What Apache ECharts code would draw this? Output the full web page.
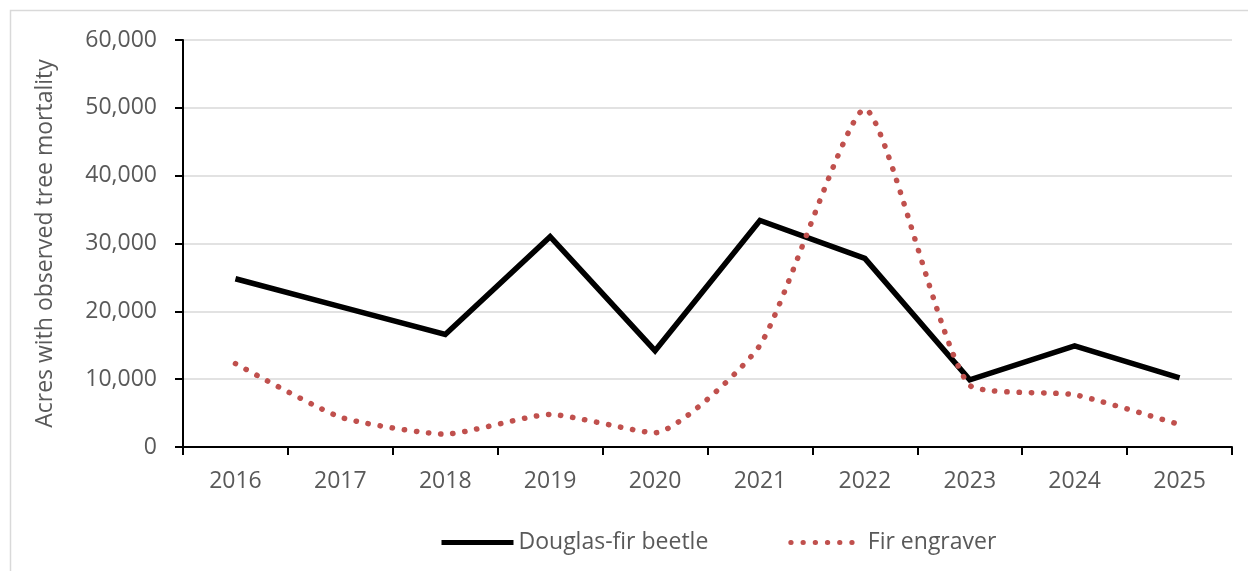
<!DOCTYPE html>
<html>
<head>
<meta charset="utf-8">
<script src="https://cdn.jsdelivr.net/npm/echarts@6/dist/echarts.min.js"></script>
<style>
html,body{margin:0;padding:0;background:#fff;}
#main{width:1248px;height:571px;}
</style>
</head>
<body>
<div id="main"></div>
<script>
const years = ['2016','2017','2018','2019','2020','2021','2022','2023','2024','2025'];
const douglasFirBeetle = [24800, 20700, 16600, 31000, 14200, 33400, 27800, 9900, 14900, 10200];
const firEngraver = [12300, 4400, 1900, 4800, 2100, 15000, 49800, 9100, 7700, 3300];
const yTicks = { min: 0, max: 60000, interval: 10000 };
const yTitle = 'Acres with observed tree mortality';

const FONT = 'Open Sans, Carlito, Calibri, sans-serif';
const chart = echarts.init(document.getElementById('main'));
chart.setOption({
  animation: false,
  backgroundColor: '#fff',
  graphic: [{
    type: 'rect', shape: { x: 10.5, y: 10.5, width: 1260, height: 600 },
    style: { fill: 'none', stroke: '#d9d9d9', lineWidth: 1.5 }, silent: true, z: -1
  }],
  grid: { left: 183, right: 16, top: 40, bottom: 124 },
  legend: {
    top: 526, left: 434,
    itemWidth: 72, itemHeight: 14, itemGap: 80,
    itemStyle: { opacity: 0 },
    lineStyle: { width: 5 },
    textStyle: { fontFamily: FONT, fontSize: 23, color: '#595959' },
    data: ['Douglas-fir beetle', 'Fir engraver']
  },
  xAxis: {
    type: 'category', data: years, boundaryGap: true,
    axisLine: { lineStyle: { color: '#000', width: 2 } },
    axisTick: { show: true, length: 8, lineStyle: { color: '#000', width: 2 } },
    axisLabel: { fontFamily: FONT, fontSize: 23, color: '#595959', margin: 23 }
  },
  yAxis: {
    type: 'value', min: yTicks.min, max: yTicks.max, interval: yTicks.interval,
    name: yTitle, nameLocation: 'middle', nameGap: 126, nameRotate: 90,
    nameTextStyle: { fontFamily: FONT, fontSize: 23, color: '#595959' },
    axisLine: { show: true, lineStyle: { color: '#000', width: 2 } },
    axisTick: { show: true, length: 8, lineStyle: { color: '#000', width: 2 } },
    splitLine: { lineStyle: { color: '#d9d9d9', width: 1.5 } },
    axisLabel: {
      fontFamily: FONT, fontSize: 23, color: '#595959', margin: 26,
      formatter: v => v.toLocaleString('en-US')
    }
  },
  series: [
    {
      name: 'Douglas-fir beetle', type: 'line', data: douglasFirBeetle,
      symbol: 'none', smooth: false,
      lineStyle: { color: '#000', width: 5.5, join: 'miter' },
      itemStyle: { color: '#000' }
    },
    {
      name: 'Fir engraver', type: 'line', data: firEngraver,
      symbol: 'none', smooth: 0.18,
      lineStyle: { color: '#c0504d', width: 5.5, type: [0.3, 11.9], cap: 'round' },
      itemStyle: { color: '#c0504d' }
    }
  ]
});
</script>
</body>
</html>
